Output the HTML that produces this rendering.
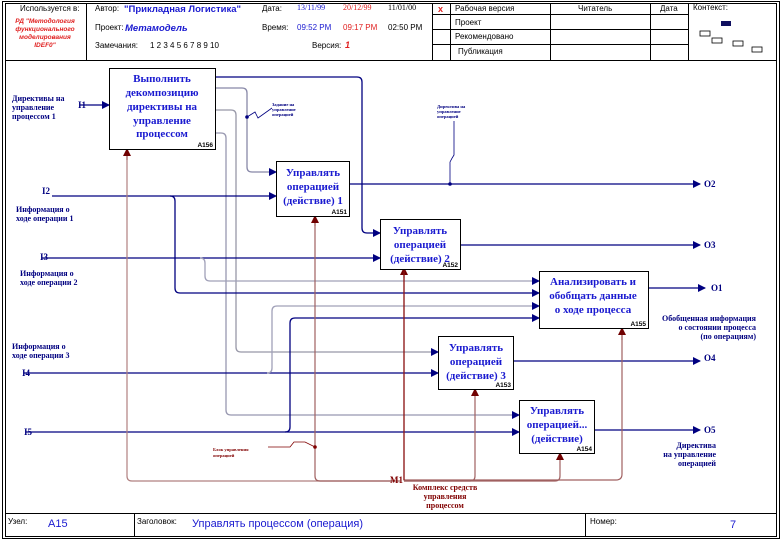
<!DOCTYPE html>
<html><head><meta charset="utf-8"><style>body{margin:0;background:#fff}svg{display:block}</style></head><body>
<svg width="782" height="540" viewBox="0 0 782 540" xmlns="http://www.w3.org/2000/svg" font-family="Liberation Sans, sans-serif">
<defs>
<marker id="ab" markerWidth="8" markerHeight="8" refX="7" refY="4" orient="auto" markerUnits="userSpaceOnUse"><path d="M0,0 L8,4 L0,8z" fill="#000080"/></marker>
<marker id="ar" markerWidth="8" markerHeight="8" refX="7" refY="4" orient="auto" markerUnits="userSpaceOnUse"><path d="M0,0 L8,4 L0,8z" fill="#700000"/></marker>
</defs>
<rect x="0" y="0" width="782" height="540" fill="#fff"/>
<rect x="2.5" y="1.5" width="777" height="537" fill="none" stroke="#000" stroke-width="1"/>
<rect x="5.5" y="3.5" width="771" height="533" fill="none" stroke="#000" stroke-width="1"/>
<!-- header -->
<line x1="5" y1="60.5" x2="777" y2="60.5" stroke="#000"/>
<line x1="86.5" y1="3" x2="86.5" y2="60" stroke="#000"/>
<line x1="432.5" y1="3" x2="432.5" y2="60" stroke="#000"/>
<line x1="450.5" y1="3" x2="450.5" y2="60" stroke="#000"/>
<line x1="550.5" y1="3" x2="550.5" y2="60" stroke="#000"/>
<line x1="650.5" y1="3" x2="650.5" y2="60" stroke="#000"/>
<line x1="688.5" y1="3" x2="688.5" y2="60" stroke="#000"/>
<line x1="432" y1="14.5" x2="688" y2="14.5" stroke="#000"/>
<line x1="432" y1="29.5" x2="688" y2="29.5" stroke="#000"/>
<line x1="432" y1="44.5" x2="688" y2="44.5" stroke="#000"/>
<g font-size="8" fill="#000">
<text x="20" y="11">Используется в:</text>
<text x="95" y="11">Автор:</text>
<text x="95" y="30">Проект:</text>
<text x="95" y="48">Замечания:</text>
<text x="150" y="48">1 2 3 4 5 6 7 8 9 10</text>
<text x="262" y="11">Дата:</text>
<text x="262" y="30">Время:</text>
<text x="312" y="48">Версия:</text>
<text x="455" y="11">Рабочая версия</text>
<text x="455" y="25">Проект</text>
<text x="455" y="39">Рекомендовано</text>
<text x="458" y="54">Публикация</text>
<text x="578" y="11">Читатель</text>
<text x="660" y="11">Дата</text>
<text x="693" y="10">Контекст:</text>
<text x="388" y="30">02:50 PM</text>
</g>
<text x="124" y="12" font-size="9.5" font-weight="bold" fill="#1a1ad0">"Прикладная Логистика"</text>
<text x="125" y="31" font-size="9.5" font-weight="bold" font-style="italic" fill="#1a1ad0">Метамодель</text>
<text x="345" y="48" font-size="9" font-weight="bold" font-style="italic" fill="#e02020">1</text>
<g font-family="Liberation Serif, serif" font-size="8">
<text x="297" y="10" fill="#1a1ad0">13/11/99</text>
<text x="343" y="10" fill="#e02020">20/12/99</text>
<text x="388" y="10" fill="#000">11/01/00</text>
</g>
<text x="297" y="30" font-size="8" fill="#1a1ad0">09:52 PM</text>
<text x="343" y="30" font-size="8" fill="#e02020">09:17 PM</text>
<text x="438" y="12" font-size="9" font-weight="bold" fill="#e02020">x</text>
<g font-size="6.5" font-style="italic" font-weight="bold" fill="#e02020" text-anchor="middle">
<text x="45" y="23">РД "Методология</text>
<text x="45" y="31">функционального</text>
<text x="45" y="39">моделирования</text>
<text x="45" y="47">IDEF0"</text>
</g>
<rect x="721" y="21" width="10" height="5" fill="#101060"/>
<g fill="none" stroke="#000" stroke-width="0.8">
<rect x="700" y="31" width="10" height="5"/><rect x="712" y="38" width="10" height="5"/><rect x="733" y="41" width="10" height="5"/><rect x="752" y="47" width="10" height="5"/>
</g>
<!-- footer -->
<line x1="5" y1="513.5" x2="777" y2="513.5" stroke="#000"/>
<line x1="134.5" y1="513" x2="134.5" y2="537" stroke="#000"/>
<line x1="585.5" y1="513" x2="585.5" y2="537" stroke="#000"/>
<text x="8" y="524" font-size="8">Узел:</text>
<text x="48" y="527" font-size="11" fill="#1a1ad0">A15</text>
<text x="137" y="524" font-size="8">Заголовок:</text>
<text x="192" y="527" font-size="11" fill="#1a1ad0">Управлять процессом (операция)</text>
<text x="590" y="524" font-size="8">Номер:</text>
<text x="730" y="528" font-size="11" fill="#1a1ad0">7</text>

<!-- gray/blue connectors -->
<g fill="none" stroke-width="1.3">
<path d="M215,77 H357 Q362,77 362,82 V228 Q362,233 367,233 H380" stroke="#000080" marker-end="url(#ab)"/>
<path d="M215,88 H242 Q247,88 247,93 V167 Q247,172 252,172 H276" stroke="#8888a8" marker-end="url(#ab)"/>
<path d="M215,110 H231 Q236,110 236,115 V347 Q236,352 241,352 H438" stroke="#9898a8" marker-end="url(#ab)"/>
<path d="M215,133 H221 Q226,133 226,138 V410 Q226,415 231,415 H519" stroke="#9898b0" marker-end="url(#ab)"/>
<path d="M80,105 H109" stroke="#000080" marker-end="url(#ab)"/>
<path d="M52,196 H276" stroke="#000080" marker-end="url(#ab)"/>
<path d="M170,196 Q175,196 175,201 V288 Q175,293 180,293 H539" stroke="#000080" marker-end="url(#ab)"/>
<path d="M42,258 H380" stroke="#000080" marker-end="url(#ab)"/>
<path d="M200,258 Q205,258 205,263 V276 Q205,281 210,281 H539" stroke="#a0a0b8" marker-end="url(#ab)"/>
<path d="M24,373 H438" stroke="#000080" marker-end="url(#ab)"/>
<path d="M267,373 Q272,373 272,368 V311 Q272,306 277,306 H539" stroke="#a0a0b8" marker-end="url(#ab)"/>
<path d="M26,432 H519" stroke="#000080" marker-end="url(#ab)"/>
<path d="M285,432 Q290,432 290,427 V323 Q290,318 295,318 H539" stroke="#000080" marker-end="url(#ab)"/>
<path d="M349,184 H700" stroke="#000080" marker-end="url(#ab)"/>
<path d="M460,245 H700" stroke="#000080" marker-end="url(#ab)"/>
<path d="M648,288 H705" stroke="#000080" marker-end="url(#ab)"/>
<path d="M513,361 H700" stroke="#000080" marker-end="url(#ab)"/>
<path d="M594,430 H700" stroke="#000080" marker-end="url(#ab)"/>
</g>
<!-- mechanisms -->
<g fill="none" stroke-width="1.2">
<path d="M127,149 V476 Q127,481 132,481 H395" stroke="#b08080"/>
<path d="M315,216 V476 Q315,481 320,481 H400" stroke="#a06060"/>
<path d="M404,268 V480 H616 Q622,480 622,474 V328" stroke="#a06060"/>
<path d="M404,481 H470 Q475,481 475,476 V389" stroke="#a06060" marker-end="url(#ar)"/>
<path d="M404,481 H555 Q560,481 560,476 V453" stroke="#a06060" marker-end="url(#ar)"/>
<path d="M622,340 V328" stroke="#a06060" marker-end="url(#ar)"/>
<path d="M127,160 V149" stroke="#a06060" marker-end="url(#ar)"/>
<path d="M315,226 V216" stroke="#a06060" marker-end="url(#ar)"/>
<path d="M404,278 V268" stroke="#a06060" marker-end="url(#ar)"/>
</g>
<path d="M404,268 V480" stroke="#8b1010" stroke-width="1.2"/>
<!-- squiggles -->
<g fill="none" stroke="#000080" stroke-width="0.8">
<path d="M247,117 L255,112 L258,118 L272,108"/>
<path d="M450,184 V162 Q452,158 454,155 V121"/>
</g>
<circle cx="247" cy="117" r="1.8" fill="#000080"/>
<circle cx="450" cy="184" r="1.8" fill="#000080"/>
<path d="M268,447 H290 L294,442 H305 L315,447" fill="none" stroke="#800000" stroke-width="0.8"/>
<circle cx="315" cy="447" r="1.8" fill="#800000"/>
<g font-family="Liberation Serif, serif" font-size="4.5" font-weight="bold">
<text x="272" y="106" fill="#000080">Задание на</text><text x="272" y="111" fill="#000080">управление</text><text x="272" y="116" fill="#000080">операцией</text>
<text x="437" y="108" fill="#000080">Директива на</text><text x="437" y="113" fill="#000080">управление</text><text x="437" y="118" fill="#000080">операцией</text>
<text x="213" y="451" fill="#800000">Блок управления</text><text x="213" y="457" fill="#800000">операцией</text>
</g>
<!-- boxes -->
<g fill="#fff" stroke="#000" stroke-width="1">
<rect x="109.5" y="68.5" width="106" height="81"/>
<rect x="276.5" y="161.5" width="73" height="55"/>
<rect x="380.5" y="219.5" width="80" height="50"/>
<rect x="539.5" y="271.5" width="109" height="57"/>
<rect x="438.5" y="336.5" width="75" height="53"/>
<rect x="519.5" y="400.5" width="75" height="53"/>
</g>
<g font-family="Liberation Serif, serif" font-weight="bold" fill="#1a1ad0" text-anchor="middle" font-size="11">
<text x="162" y="82">Выполнить</text><text x="162" y="96">декомпозицию</text><text x="162" y="110">директивы на</text><text x="162" y="124">управление</text><text x="162" y="137">процессом</text>
<text x="313" y="176">Управлять</text><text x="313" y="190">операцией</text><text x="313" y="204">(действие) 1</text>
<text x="420" y="234">Управлять</text><text x="420" y="248">операцией</text><text x="420" y="262">(действие) 2</text>
<text x="593" y="285">Анализировать и</text><text x="593" y="299">обобщать данные</text><text x="593" y="313">о ходе процесса</text>
<text x="476" y="351">Управлять</text><text x="476" y="365">операцией</text><text x="476" y="379">(действие) 3</text>
<text x="557" y="414">Управлять</text><text x="557" y="428">операцией...</text><text x="557" y="442">(действие)</text>
</g>
<g font-size="6.5" font-weight="bold" text-anchor="end">
<text x="213" y="147">A156</text><text x="347" y="214">A151</text><text x="458" y="267">A152</text><text x="646" y="326">A155</text><text x="511" y="387">A153</text><text x="592" y="451">A154</text>
</g>
<!-- labels -->
<g font-family="Liberation Serif, serif" font-size="8" font-weight="bold" fill="#000080">
<text x="12" y="101">Директивы на</text><text x="12" y="110">управление</text><text x="12" y="119">процессом 1</text>
<text x="78" y="108" font-size="9">I1</text>
<text x="42" y="194" font-size="9">I2</text>
<text x="16" y="212">Информация о</text><text x="16" y="221">ходе операции 1</text>
<text x="40" y="260" font-size="9">I3</text>
<text x="20" y="276">Информация о</text><text x="20" y="285">ходе операции 2</text>
<text x="12" y="349">Информация о</text><text x="12" y="358">ходе операции 3</text>
<text x="22" y="376" font-size="9">I4</text>
<text x="24" y="435" font-size="9">I5</text>
<text x="704" y="187" font-size="9">O2</text>
<text x="704" y="248" font-size="9">O3</text>
<text x="711" y="291" font-size="9">O1</text>
<text x="704" y="361" font-size="9">O4</text>
<text x="704" y="433" font-size="9">O5</text>
<g text-anchor="end"><text x="756" y="321">Обобщенная информация</text><text x="756" y="330">о состоянии процесса</text><text x="756" y="339">(по операциям)</text>
<text x="716" y="448">Директива</text><text x="716" y="457">на управление</text><text x="716" y="466">операцией</text></g>
</g>
<g font-family="Liberation Serif, serif" font-size="8" font-weight="bold" fill="#800000">
<text x="390" y="483" font-size="9">M1</text>
<g text-anchor="middle"><text x="445" y="490">Комплекс средств</text><text x="445" y="499">управления</text><text x="445" y="508">процессом</text></g>
</g>
</svg>
</body></html>
